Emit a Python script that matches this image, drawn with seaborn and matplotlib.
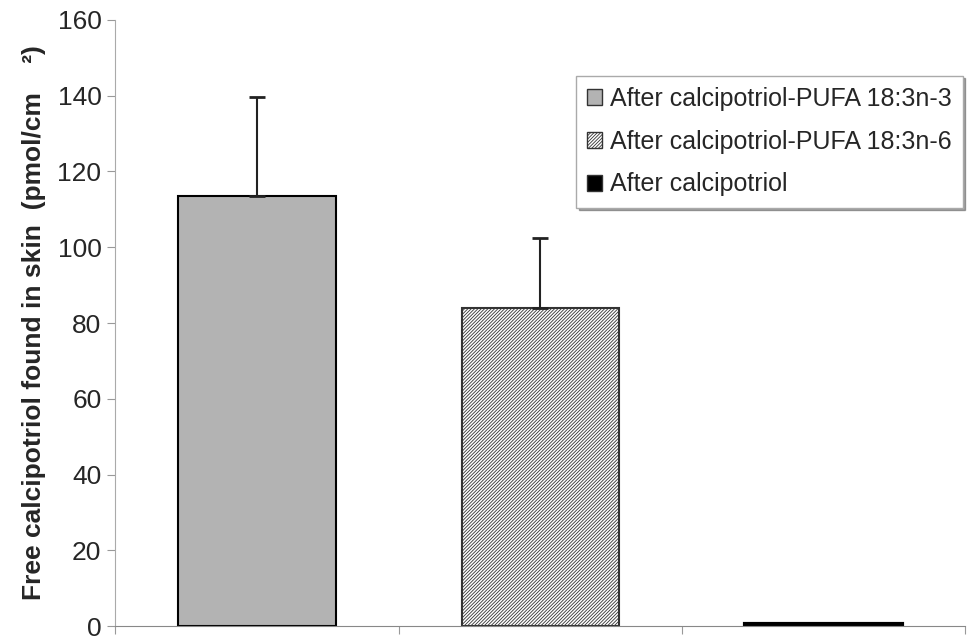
import matplotlib
matplotlib.use("Agg")
import matplotlib.pyplot as plt
import matplotlib.patches as mpatches
import numpy as np
import pandas as pd
import seaborn as sns

groups = ['After calcipotriol-PUFA 18:3n-3', 'After calcipotriol-PUFA 18:3n-6', 'After calcipotriol']
means = [113.5, 83.9, 0.5]
errors = [26.1, 18.5, 0.0]
colors = ['#b3b3b3', '#ffffff', '#000000']
hatches = ['', '//////////', '']

sns.set_style('white')
plt.rcParams['font.family'] = ['Liberation Sans', 'DejaVu Sans']
plt.rcParams['hatch.linewidth'] = 0.6

df = pd.DataFrame({'group': groups, 'value': means})

fig = plt.figure(figsize=(9.69, 6.39), dpi=100)
ax = fig.add_axes([0.119, 0.02, 0.877, 0.949])

sns.barplot(data=df, x='group', y='value', hue='group', palette=colors,
            edgecolor='black', linewidth=1.5, width=0.555, legend=False, ax=ax)
for p, h in zip(ax.patches, hatches):
    if h:
        p.set_hatch(h)
        p.set_edgecolor('#333333')
ax.patches[2].set_linewidth(3)

x = np.arange(len(groups))
ax.errorbar(x[:2], means[:2], yerr=[[0, 0], errors[:2]], fmt='none',
            ecolor='#222222', elinewidth=1.5, capsize=6, capthick=2)

ax.set_xlim(-0.5, 2.5)
ax.set_ylim(0, 160)
ax.set_yticks(range(0, 161, 20))
ax.set_xticks([-0.5, 0.5, 1.5, 2.5])
ax.set_xticklabels([])
ax.set_xlabel('')
ax.tick_params(axis='y', labelsize=19, length=6, color='#999999', direction='out',
               left=True, pad=4)
ax.tick_params(axis='x', length=6, color='#999999', direction='out', bottom=True)
for s in ['top', 'right']:
    ax.spines[s].set_visible(False)
ax.spines['left'].set_color('#aaaaaa')
ax.spines['bottom'].set_color('#888888')
ax.set_ylabel('Free calcipotriol found in skin  (pmol/cm    \u00b2)', fontsize=19,
              fontweight='bold', labelpad=8)

handles = [mpatches.Patch(facecolor=c, edgecolor='#333333', hatch=h, label=g)
           for g, c, h in zip(groups, colors, hatches)]
leg = ax.legend(handles=handles, loc='upper right', bbox_to_anchor=(1.0, 0.912),
                fontsize=18, frameon=True, fancybox=False, shadow=True,
                handlelength=0.6, handleheight=0.6, handletextpad=0.3,
                labelspacing=0.75, borderpad=0.45, borderaxespad=0.1)
leg.get_frame().set_edgecolor('#aaaaaa')

fig.savefig('out.png', dpi=100)
